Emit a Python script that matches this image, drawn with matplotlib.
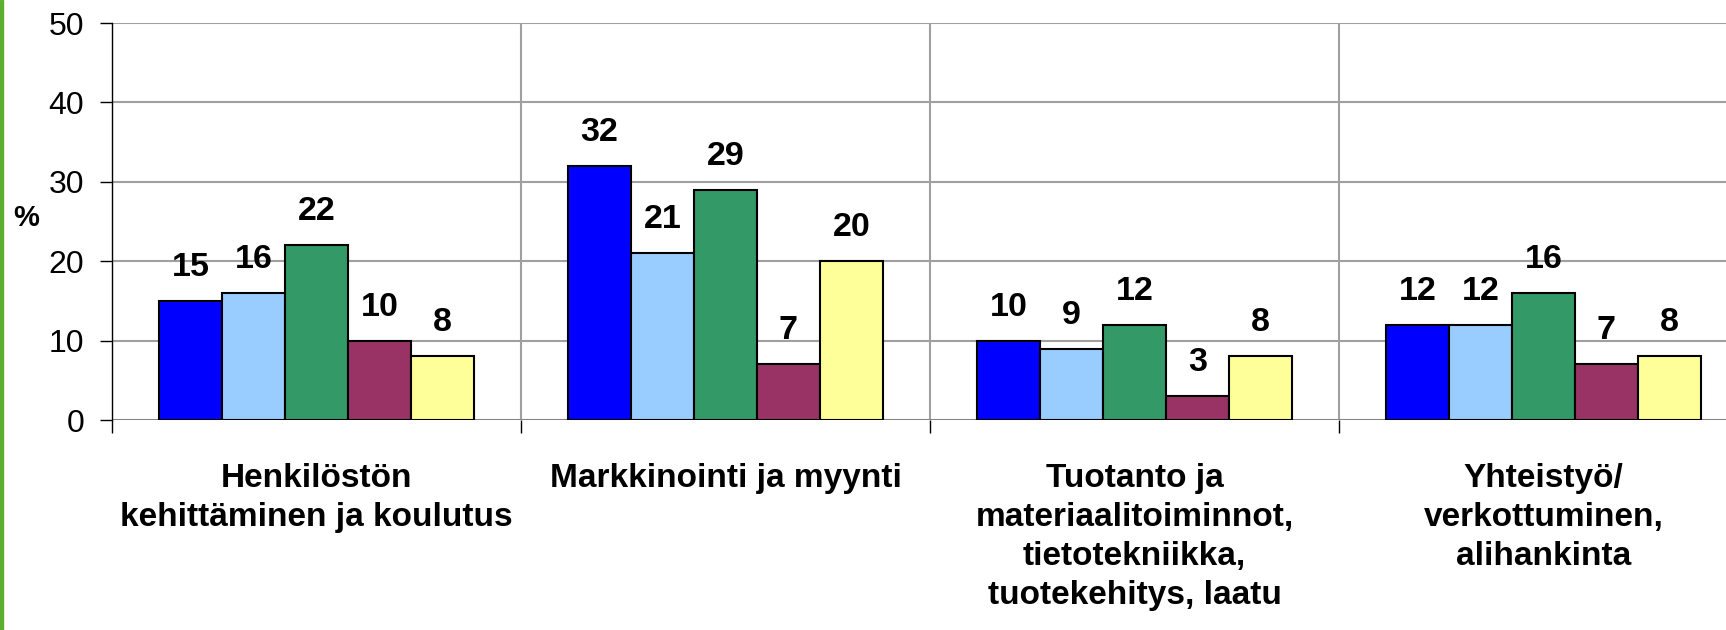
import numpy as np
import matplotlib.pyplot as plt
from matplotlib.patches import Rectangle

plt.rcParams['font.family'] = ['Liberation Sans', 'DejaVu Sans']

# data
categories = ['Henkilöstön\nkehittäminen ja koulutus',
              'Markkinointi ja myynti',
              'Tuotanto ja\nmateriaalitoiminnot,\ntietotekniikka,\ntuotekehitys, laatu',
              'Yhteistyö/\nverkottuminen,\nalihankinta']
series1 = [15, 32, 10, 12]
series2 = [16, 21, 9, 12]
series3 = [22, 29, 12, 16]
series4 = [10, 7, 3, 7]
series5 = [8, 20, 8, 8]
colors = ['#0000FF', '#99CCFF', '#339966', '#993366', '#FFFF99']

W, H = 1726, 630
fig = plt.figure(figsize=(W / 100, H / 100), dpi=100)
ax = fig.add_axes([112 / W, (H - 420) / H, (1748 - 112) / W, (420 - 23) / H])

x = np.arange(len(categories))
w = 0.154
all_series = [series1, series2, series3, series4, series5]
for i, vals in enumerate(all_series):
    pos = x + (i - 2) * w
    ax.bar(pos, vals, width=w, color=colors[i], edgecolor='black', linewidth=1.5, zorder=3)
    for xp, v in zip(pos, vals):
        ax.annotate(str(v), (xp, v), xytext=(0, 18), textcoords='offset points',
                    ha='center', va='baseline', fontsize=24.5, fontweight='bold')

ax.set_ylim(0, 50)
ax.set_xlim(-0.5, len(categories) - 0.5)
ax.set_yticks(range(0, 51, 10))
ax.tick_params(axis='y', length=9, width=1, pad=11, labelsize=23, direction='out')

ax.set_xticks(x)
ax.set_xticklabels(categories, fontsize=24, fontweight='bold', linespacing=1.33)
ax.tick_params(axis='x', which='major', length=0, pad=31)
ax.set_xticks(np.arange(len(categories) + 1) - 0.5, minor=True)
ax.tick_params(axis='x', which='minor', length=9, width=1, direction='out')

ax.grid(axis='y', color='#A0A0A0', linewidth=1.5, zorder=0)
ax.grid(axis='x', which='minor', color='#A0A0A0', linewidth=1.5, zorder=0)
ax.axhline(0, color='#808080', linewidth=2, zorder=2)

for s in ['top', 'right', 'bottom']:
    ax.spines[s].set_visible(False)
ax.spines['left'].set_linewidth(1)

fig.text(26 / W, 1 - 218 / H, '%', ha='center', va='center', fontsize=21, fontweight='bold')

# green border at the left edge
fig.add_artist(Rectangle((0, 0), 3 / W, 1, transform=fig.transFigure,
                         color='#5AAF32', zorder=10))

fig.savefig('out.png', dpi=100)
